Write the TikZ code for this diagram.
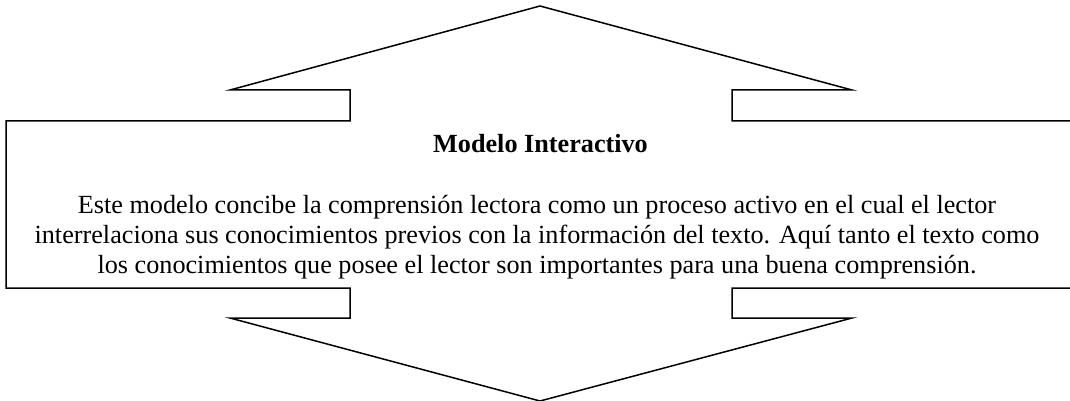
\documentclass[tikz,border=0pt]{standalone}
\usepackage{fontspec}
\setmainfont{Liberation Serif}
\begin{document}
\begin{tikzpicture}[x=1pt,y=-1pt,
  outline/.style={draw=black,line width=1.5pt,line join=miter},
  title/.style={font=\fontsize{26.2}{30}\selectfont\bfseries,inner sep=0pt,anchor=base},
  body/.style={font=\fontsize{26.2}{30}\selectfont,inner sep=0pt,anchor=base,align=center}]
\useasboundingbox (0,0) rectangle (1070,401);
\clip (0,0) rectangle (1070,401);
\draw[outline] (540,6) -- (230,90) -- (350,90) -- (350,121) -- (6,121) -- (6,288)
  -- (350,288) -- (350,318) -- (230,318) -- (540,401) -- (852,318) -- (732,318)
  -- (732,288) -- (1076,288) -- (1076,121) -- (732,121) -- (732,90) -- (852,90) -- cycle;
\node[title] (t) at (540.5,153) {Modelo Interactivo};
\node[body] (b) at (537,273) {Este modelo concibe la comprensión lectora como un proceso activo en el cual el lector\\
interrelaciona sus conocimientos previos con la información del texto. Aquí tanto el texto como\\
los conocimientos que posee el lector son importantes para una buena comprensión.};
\end{tikzpicture}
\end{document}
